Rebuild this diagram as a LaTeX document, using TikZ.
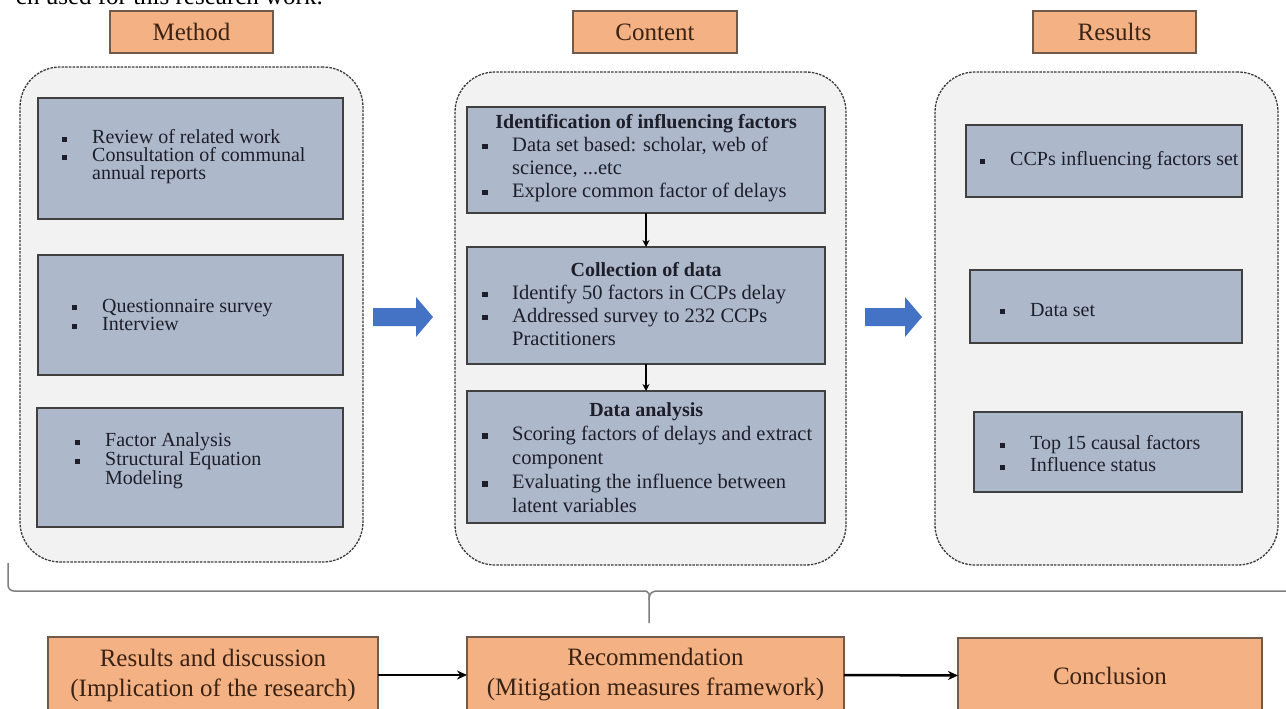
\documentclass[tikz,border=0pt]{standalone}
\usepackage{fontspec}
\setmainfont{Liberation Serif}
\usetikzlibrary{arrows.meta}
\definecolor{bigfill}{HTML}{F2F2F2}
\definecolor{bigline}{HTML}{3A3A3A}
\definecolor{innerfill}{HTML}{ADB9CA}
\definecolor{innerline}{HTML}{404040}
\definecolor{orfill}{HTML}{F4B183}
\definecolor{orline}{HTML}{6F5A4B}
\definecolor{ortext}{HTML}{3B2314}
\definecolor{txtdark}{HTML}{1E1E2A}
\definecolor{arrowblue}{HTML}{4472C4}
\definecolor{bracegray}{HTML}{7F7F7F}
\newcommand\bsq{\raisebox{0.1em}{\rule{0.26em}{0.26em}}}
\newcommand\bl[1]{\makebox[30pt][l]{\bsq}\mbox{#1}}
\newcommand\cl[1]{\hspace*{30pt}\mbox{#1}}
\newcommand\hd[1]{\makebox[328pt][c]{\fontsize{20}{23}\selectfont\bfseries #1}}
\begin{document}
\begin{tikzpicture}[x=1pt,y=-1pt,
  bigbox/.style={draw=bigline, fill=bigfill, line width=1.3pt, dash pattern=on 2.5pt off 1.2pt,
    rounded corners=40pt, anchor=north west, inner sep=0pt, outer sep=0pt},
  innerbox/.style={draw=innerline, fill=innerfill, line width=1.5pt, anchor=north west,
    inner sep=0pt, outer sep=0pt},
  orbox/.style={draw=orline, fill=orfill, line width=1.5pt, text=ortext, anchor=north west,
    inner sep=0pt, outer sep=0pt, align=center, font=\fontsize{25}{30}\selectfont},
  mtxt/.style={align=left, anchor=west, inner sep=0pt, text=txtdark, font=\fontsize{20}{18}\selectfont},
  ctxt/.style={align=left, anchor=west, inner sep=0pt, text=txtdark,
    font=\fontsize{20.5}{23}\selectfont},
  vline/.style={line width=1.8pt, -{Stealth[length=7pt,width=7pt]}},
  harrow/.style={line width=2.5pt, -{Stealth[length=10pt,width=9pt]}},
  brace/.style={draw=bracegray, line width=1.5pt},
  blockarrow/.style={fill=arrowblue}
]
\useasboundingbox (0,0) rectangle (1286,709);
\fill[white] (0,0) rectangle (1286,709);

% cropped caption line at the top
\node[anchor=base east, inner sep=0pt, font=\fontsize{25}{30}\selectfont] (cap) at (323,5) {ch used for this research work.};

% column labels
\node[orbox, minimum width=163pt, minimum height=42pt] (lm) at (110,11) {Method};
\node[orbox, minimum width=164pt, minimum height=42pt] (lc) at (573,11) {Content};
\node[orbox, minimum width=163pt, minimum height=42pt] (lr) at (1033,11) {Results};

% big dashed containers
\node[bigbox, minimum width=343pt, minimum height=495pt] (bm) at (20,67) {};
\node[bigbox, minimum width=391pt, minimum height=493pt] (bc) at (455,72) {};
\node[bigbox, minimum width=343pt, minimum height=493pt] (br) at (935,72) {};

% Method inner boxes
\node[innerbox, minimum width=305pt, minimum height=121pt] (m1) at (38,98) {};
\node[innerbox, minimum width=305pt, minimum height=120pt] (m2) at (38,255) {};
\node[innerbox, minimum width=306pt, minimum height=119pt] (m3) at (37,408) {};
\node[mtxt] (m1t) at (62,157) {\bl{Review of related work}\\\bl{Consultation of communal}\\\cl{annual reports}};
\node[mtxt, font=\fontsize{20}{17.5}\selectfont] (m2t) at (72,315) {\bl{Questionnaire survey}\\\bl{Interview}};
\node[mtxt, font=\fontsize{20}{19}\selectfont] (m3t) at (75,461) {\bl{Factor Analysis}\\\bl{Structural Equation}\\\cl{Modeling}};

% Content inner boxes
\node[innerbox, minimum width=358pt, minimum height=106pt] (c1) at (467,107) {};
\node[innerbox, minimum width=358pt, minimum height=117pt] (c2) at (467,247) {};
\node[innerbox, minimum width=358pt, minimum height=132pt] (c3) at (467,391) {};
\node[ctxt] (c1t) at (482,158) {\hd{Identification of influencing factors}\\\bl{Data set based: scholar, web of}\\\cl{science, ...etc}\\\bl{Explore common factor of delays}};
\node[ctxt] (c2t) at (482,304) {\hd{Collection of data}\\\bl{Identify 50 factors in CCPs delay}\\\bl{Addressed survey to 232 CCPs}\\\cl{Practitioners}};
\node[ctxt, font=\fontsize{20.5}{24}\selectfont] (c3t) at (482,458) {\hd{Data analysis}\\\bl{Scoring factors of delays and extract}\\\cl{component}\\\bl{Evaluating the influence between}\\\cl{latent variables}};
\draw[vline] (c1.south) -- (c2.north);
\draw[vline] (c2.south) -- (c3.north);

% Results inner boxes
\node[innerbox, minimum width=276pt, minimum height=72pt] (r1) at (966,125) {};
\node[innerbox, minimum width=272pt, minimum height=73pt] (r2) at (970,270) {};
\node[innerbox, minimum width=268pt, minimum height=80pt] (r3) at (974,412) {};
\node[mtxt] (r1t) at (980,161) {\bl{CCPs influencing factors set}};
\node[mtxt] (r2t) at (1000,310) {\bl{Data set}};
\node[mtxt, font=\fontsize{20}{22}\selectfont] (r3t) at (1000,454) {\bl{Top 15 causal factors}\\\bl{Influence status}};

% blue block arrows
\fill[blockarrow] (373,308) -- (416,308) -- (416,297) -- (433,317) -- (416,337) -- (416,326) -- (373,326) -- cycle;
\fill[blockarrow] (865,308) -- (905,308) -- (905,297) -- (922,317) -- (905,337) -- (905,326) -- (865,326) -- cycle;

% brace
\coordinate (bleft) at (8,563);
\coordinate (bmid) at (649,600);
\coordinate (btip) at (649,623);
\coordinate (bright) at (1292,591);
\draw[brace, rounded corners=6pt] (bleft) -- (8,591) -- (640,591) .. controls (647,591) and (649,594) .. (bmid) -- (btip);
\draw[brace] (bright) -- (658,591) .. controls (651,591) and (649,594) .. (bmid);

% bottom row
\node[orbox, minimum width=330pt, minimum height=76pt] (rd) at (48,637) {Results and discussion\\(Implication of the research)};
\node[orbox, minimum width=377pt, minimum height=76pt] (rec) at (467,637) {Recommendation\\(Mitigation measures framework)};
\node[orbox, minimum width=304pt, minimum height=75pt] (con) at (958,638) {Conclusion};
\draw[harrow] (rd.east) -- (rec.west);
\draw[harrow] (rec.east) -- (con.west);
\end{tikzpicture}
\end{document}
